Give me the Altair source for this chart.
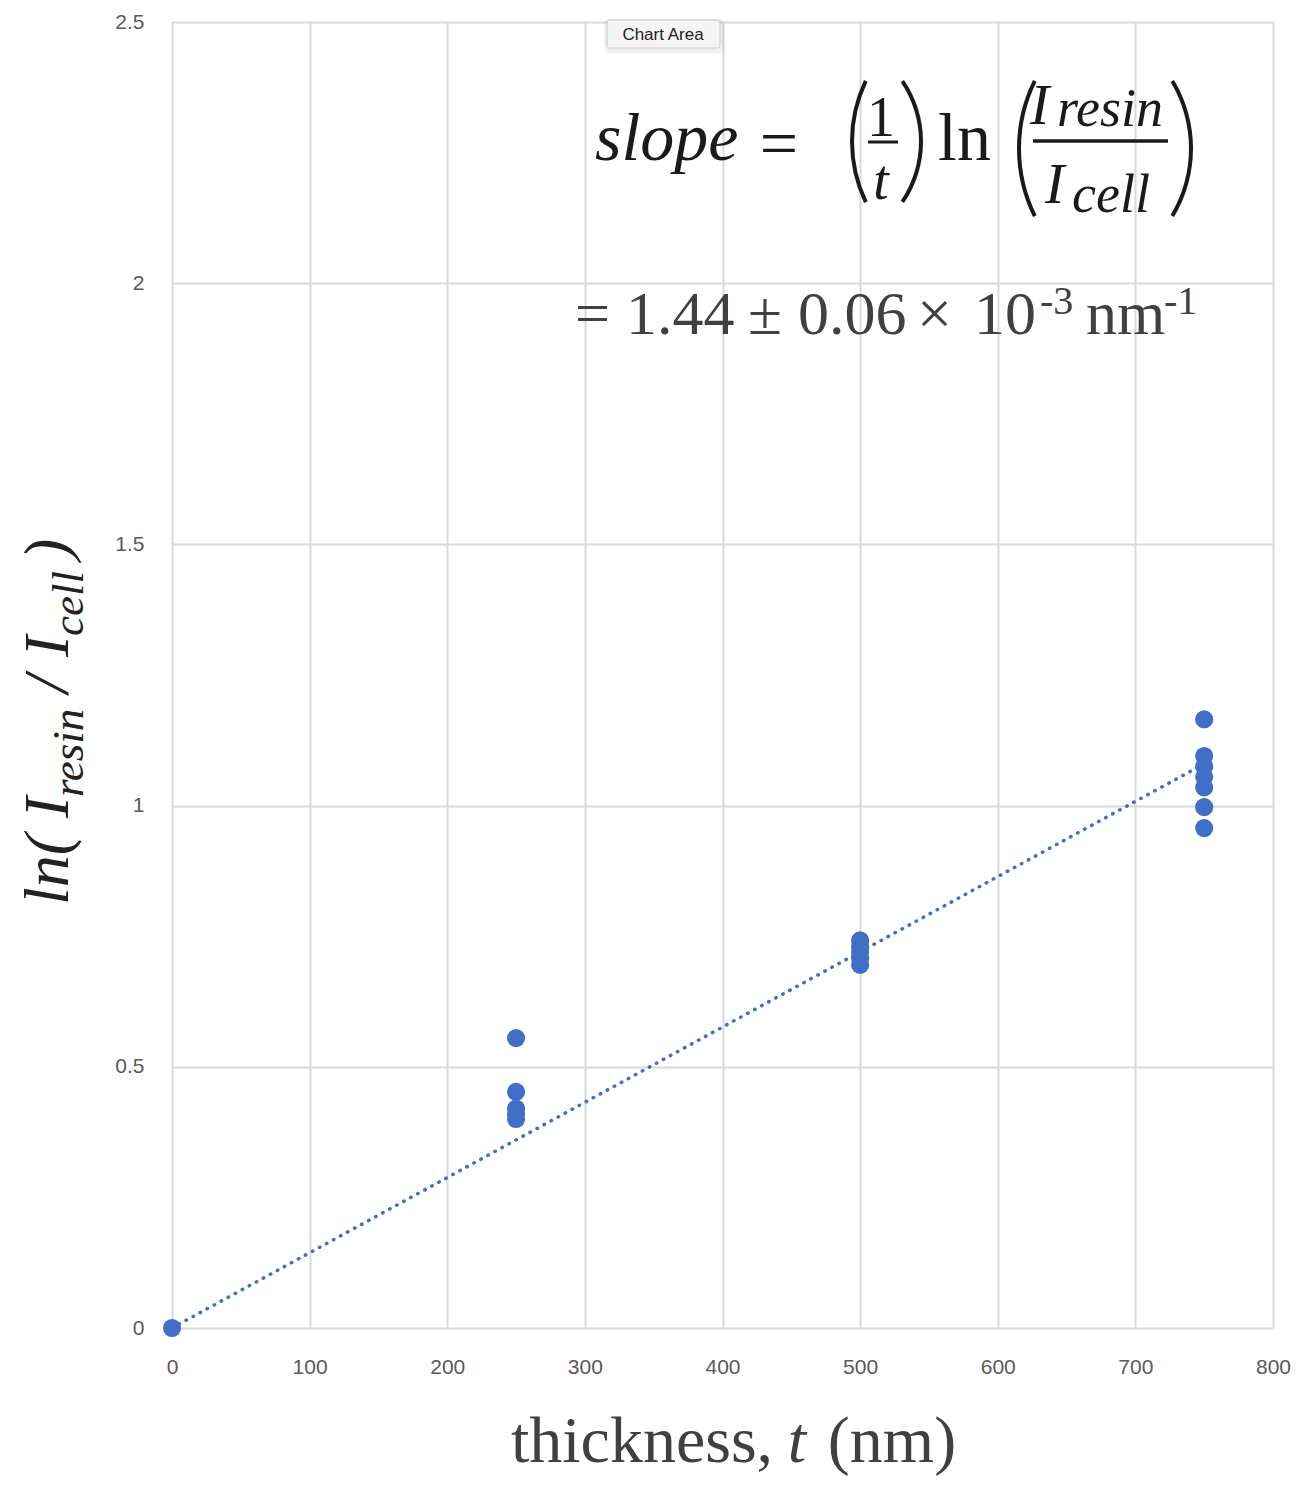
import altair as alt
import pandas as pd

# ---------------- data ----------------
thickness_nm = [0, 250, 250, 250, 250, 250, 500, 500, 500, 500, 500,
                750, 750, 750, 750, 750, 750, 750]
ln_ratio = [0.0, 0.555, 0.452, 0.42, 0.41, 0.40, 0.742, 0.73, 0.72, 0.708, 0.695,
            1.165, 1.095, 1.075, 1.055, 1.035, 0.997, 0.957]
trend_x = [0, 750]
trend_y = [0.0, 1.08]
x_ticks = [0, 100, 200, 300, 400, 500, 600, 700, 800]
y_ticks = [0, 0.5, 1, 1.5, 2, 2.5]

pts = pd.DataFrame({"t": thickness_nm, "v": ln_ratio})
trend = pd.DataFrame({"t": trend_x, "v": trend_y})
one = pd.DataFrame({"a": [0]})

# plot area position on the page (for annotation placement)
OX, OY = 172, 22
W, H = 1101, 1306
BLUE = "#3f6fc6"
SERIF = "Liberation Serif"

xs = alt.Scale(domain=[0, 800], nice=False, zero=False)
ys = alt.Scale(domain=[0, 2.5], nice=False, zero=False)

base_x = alt.X("t:Q", scale=xs, axis=alt.Axis(values=x_ticks, title=None, format="d"))
base_y = alt.Y("v:Q", scale=ys, axis=alt.Axis(values=y_ticks, title=None, format="~g"))

points = alt.Chart(pts).mark_circle(size=330, opacity=1, color=BLUE).encode(x=base_x, y=base_y)
line = alt.Chart(trend).mark_line(color=BLUE, strokeWidth=3.5, strokeDash=[0.5, 7.5],
                                  strokeCap="round").encode(x=base_x, y=base_y)


def txt(s, x, y, size, style="normal", color="#1a1a1a", align="left",
        baseline="alphabetic", angle=0, font=SERIF):
    return alt.Chart(one).mark_text(
        text=s, fontSize=size, font=font, fontStyle=style, color=color,
        align=align, baseline=baseline, angle=angle
    ).encode(x=alt.value(x - OX), y=alt.value(y - OY))


def hbar(x1, x2, y, w=3, color="#1a1a1a"):
    return alt.Chart(one).mark_rule(color=color, strokeWidth=w).encode(
        x=alt.value(x1 - OX), x2=alt.value(x2 - OX), y=alt.value(y - OY))


def paren(left, right, top, bottom, opening, thick=4, color="#1a1a1a"):
    import math
    chord = bottom - top
    sag = (right - left) - thick
    R = ((chord / 2) ** 2 + sag ** 2) / (2 * sag)
    half = math.asin((chord / 2) / R)
    cy = (top + bottom) / 2
    if opening:
        cx = left + R
        mid = 3 * math.pi / 2
    else:
        cx = right - R
        mid = math.pi / 2
    return alt.Chart(one).mark_arc(
        innerRadius=R - thick, outerRadius=R, theta=mid - half, theta2=mid + half,
        color=color
    ).encode(x=alt.value(cx - OX), y=alt.value(cy - OY))


ann = []
# ---- top formula ----
ann.append(txt("slope", 595, 160, 68, style="italic"))
ann.append(txt("=", 779, 166, 68, align="center"))
ann.append(paren(850, 868, 80, 203, True))
ann.append(txt("1", 881, 136, 56, align="center"))
ann.append(hbar(868, 898, 142))
ann.append(txt("t", 881, 199, 56, style="italic", align="center"))
ann.append(paren(900, 923, 80, 203, False))
ann.append(txt("ln", 938, 160, 68))
ann.append(paren(1017, 1037, 80, 217, True))
ann.append(txt("I", 1030, 124, 58, style="italic"))
ann.append(txt("resin", 1057, 126, 54, style="italic"))
ann.append(hbar(1033, 1168, 141, 3.5))
ann.append(txt("I", 1045, 203, 58, style="italic"))
ann.append(txt("cell", 1072, 212, 54, style="italic"))
ann.append(paren(1170, 1193, 80, 217, False))

# ---- slope value ----
G = "#404040"
ann.append(txt("=", 575, 334, 62, color=G))
ann.append(txt("1.44", 626, 334, 62, color=G))
ann.append(txt("±", 748, 334, 62, color=G))
ann.append(txt("0.06", 798, 334, 62, color=G))
ann.append(txt("×", 917, 334, 62, color=G))
ann.append(txt("10", 974, 334, 62, color=G))
ann.append(txt("-3", 1040, 314, 40, color=G))
ann.append(txt("nm", 1086, 334, 62, color=G))
ann.append(txt("-1", 1164, 314, 40, color=G))

# ---- x axis title ----
ann.append(txt("thickness,", 642, 1462, 66, color=G, align="center"))
ann.append(txt("t", 797, 1462, 66, color=G, align="center", style="italic"))
ann.append(txt("(nm)", 892, 1462, 66, color=G, align="center"))

# ---- y axis title (rotated, reading upwards) ----
YT = "#222222"
B, S = 64, 45
ann.append(txt("ln(", 68, 905, B, style="italic", angle=270, color=YT))
ann.append(txt("I", 68, 818, B, style="italic", angle=270, color=YT))
ann.append(txt("resin", 83, 797, S, style="italic", angle=270, color=YT))
ann.append(txt("/", 68, 693, B, style="italic", angle=270, color=YT))
ann.append(txt("I", 68, 657, B, style="italic", angle=270, color=YT))
ann.append(txt("cell", 83, 636, S, style="italic", angle=270, color=YT))
ann.append(txt(")", 68, 560, B, style="italic", angle=270, color=YT))

# ---- "Chart Area" tooltip ----
ann.append(alt.Chart(one).mark_rect(color="#000000", opacity=0.06, cornerRadius=5).encode(
    x=alt.value(604 - OX), x2=alt.value(724 - OX), y=alt.value(19 - OY), y2=alt.value(53 - OY)))
ann.append(alt.Chart(one).mark_rect(fill="#f4f4f4", stroke="#c9c9c9", strokeWidth=1,
                                    cornerRadius=3).encode(
    x=alt.value(607 - OX), x2=alt.value(720 - OX), y=alt.value(20 - OY), y2=alt.value(48 - OY)))
ann.append(txt("Chart Area", 663, 35, 17, color="#222222", align="center", baseline="middle",
               font="Liberation Sans"))

chart = alt.layer(line, points, *ann).properties(
    width=W, height=H,
    autosize=alt.AutoSizeParams(type="none"),
    padding={"left": OX - 8, "top": OY - 8, "right": 18, "bottom": 150},
).configure_view(stroke="transparent").configure_axis(
    grid=True, gridColor="#d9d9d9", gridWidth=2, domain=False, ticks=False,
    labelFont="Liberation Sans", labelFontSize=21, labelColor="#595959",
    labelFlush=False,
).configure_axisY(labelPadding=28).configure_axisX(labelPadding=28)

chart.save("out.html", embed_options={"renderer": "svg", "actions": False})
